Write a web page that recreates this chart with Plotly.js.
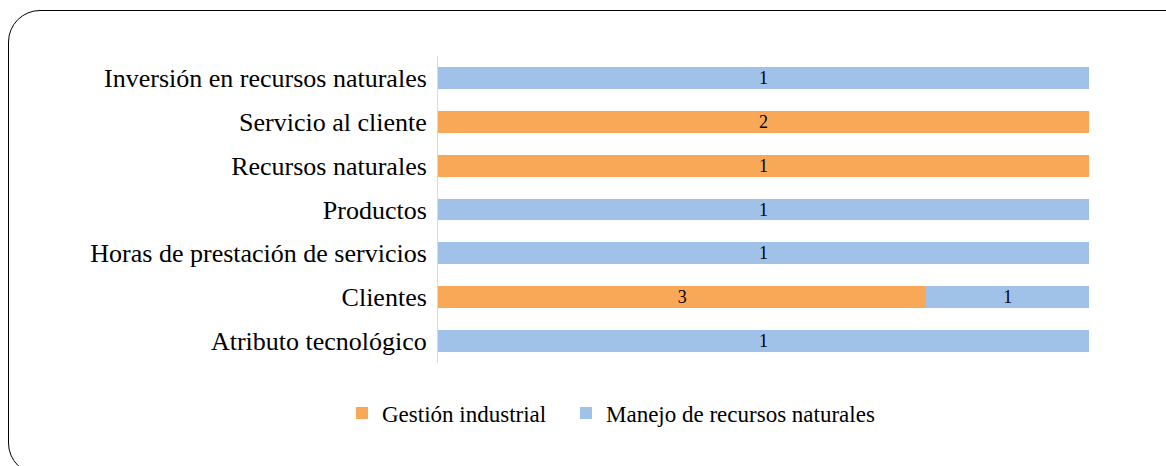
<!DOCTYPE html>
<html>
<head>
<meta charset="utf-8">
<script src="https://cdn.plot.ly/plotly-3.0.1.min.js"></script>
<style>
  html, body { margin: 0; padding: 0; background: #fff; overflow: hidden; }
  #frame { position: absolute; left: 8px; top: 10px; width: 1200px; height: 465px; z-index: 5;
           pointer-events: none; border: 1.6px solid #000; border-radius: 32px; box-sizing: border-box; }
  #chart { position: absolute; left: 0; top: 0; width: 1166px; height: 466px; }
</style>
</head>
<body>
<div id="chart"></div>
<div id="frame"></div>
<script>
const categories = [
  "Inversión en recursos naturales",
  "Servicio al cliente",
  "Recursos naturales",
  "Productos",
  "Horas de prestación de servicios",
  "Clientes",
  "Atributo tecnológico"
];
const gestionIndustrial = [0, 2, 1, 0, 0, 3, 0];
const manejoRecursos   = [1, 0, 0, 1, 1, 1, 1];
const seriesNames = ["Gestión industrial", "Manejo de recursos naturales"];
const colors = ["#F9A857", "#A0C2E8"];

const lbl = v => v ? String(v) : "";
const common = {
  type: "bar", orientation: "h", y: categories,
  textposition: "inside", insidetextanchor: "middle", textangle: 0, constraintext: "none",
  textfont: { family: "Liberation Serif", size: 18, color: "#000" },
  hoverinfo: "skip"
};
const traces = [
  Object.assign({}, common, { name: seriesNames[0], x: gestionIndustrial, text: gestionIndustrial.map(lbl),
    texttemplate: "%{text}", marker: { color: colors[0], line: { width: 0 } }, legend: "legend" }),
  Object.assign({}, common, { name: seriesNames[1], x: manejoRecursos, text: manejoRecursos.map(lbl),
    texttemplate: "%{text}", marker: { color: colors[1], line: { width: 0 } }, legend: "legend2" })
];

const legFont = { family: "Liberation Serif", size: 23, color: "#000" };
const legBase = { orientation: "h", xref: "container", yref: "container", xanchor: "left",
  y: 0.1137, yanchor: "middle", font: legFont, bgcolor: "rgba(0,0,0,0)" };

const layout = {
  width: 1166, height: 466,
  paper_bgcolor: "rgba(0,0,0,0)", plot_bgcolor: "rgba(0,0,0,0)",
  margin: { l: 438, r: 77, t: 56, b: 103, pad: 0 },
  barmode: "stack", barnorm: "fraction", bargap: 0.5,
  font: { family: "Liberation Serif", color: "#000" },
  xaxis: { range: [0, 1], visible: false, fixedrange: true },
  yaxis: {
    autorange: "reversed", showline: true, linecolor: "#d9d9d9", linewidth: 1,
    ticks: "", showgrid: false, ticklabelstandoff: 5,
    tickfont: { family: "Liberation Serif", size: 26, color: "#000" }
  },
  showlegend: true,
  legend: Object.assign({}, legBase, { x: 0.2933 }),
  legend2: Object.assign({}, legBase, { x: 0.4854 })
};
Plotly.newPlot("chart", traces, layout, { staticPlot: true, displayModeBar: false });
</script>
</body>
</html>
